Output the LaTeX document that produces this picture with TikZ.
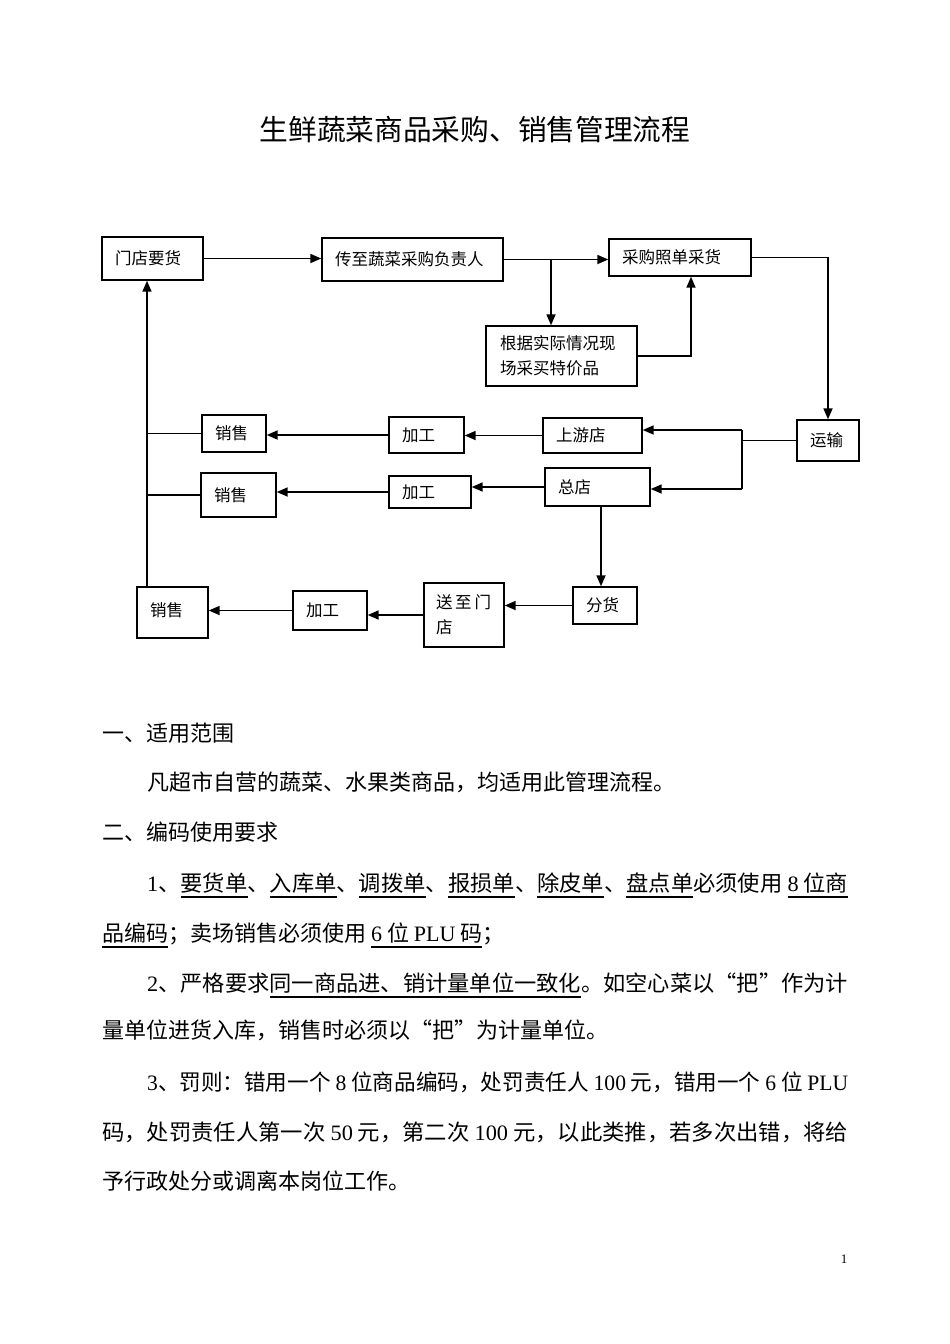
\documentclass[tikz,border=0pt]{standalone}
\usepackage{fontspec}
\usepackage{graphicx}
\setmainfont{Noto Sans CJK SC}
\newfontfamily\latf{Liberation Serif}
\usetikzlibrary{arrows.meta,calc}
\newcommand\lat[1]{{\latf #1}}
\newcommand\ul[1]{\setbox0=\hbox{#1}\rlap{\rule[-7pt]{\wd0}{1.6pt}}\box0}
\newcommand\jline[2]{\resizebox{#1}{\height}{#2}}
\tikzset{
  box/.style={draw, line width=1.4pt, inner xsep=13pt, inner ysep=0pt, align=left,
    font=\fontsize{16.5}{25}\selectfont},
  arr/.style={line width=1.7pt, -{Triangle[length=11pt,width=9pt]}},
  ln/.style={line width=1.7pt},
  body/.style={anchor=base west, inner sep=0pt, font=\fontsize{22}{26}\selectfont},
}
\begin{document}
\begin{tikzpicture}[x=1pt,y=-1pt]
\useasboundingbox (0,0) rectangle (950,1344);
\fill[white] (0,0) rectangle (950,1344);

% title
\node[inner sep=0pt, font=\fontsize{28.7}{32}\selectfont] (title) at (475,130) {生鲜蔬菜商品采购、销售管理流程};

% boxes
\node[box, minimum width=101pt, minimum height=43pt, text width=75pt] (md) at (152.5,258.5) {门店要货};
\node[box, minimum width=181pt, minimum height=43pt, text width=155pt] (cz) at (412.5,259.5) {传至蔬菜采购负责人};
\node[box, minimum width=142pt, minimum height=37pt, text width=116pt] (cg) at (680,257.5) {采购照单采货};
\node[box, minimum width=149pt, minimum height=60pt, text width=123pt, inner xsep=14pt] (gj) at (561.5,356) {根据实际情况现\\场采买特价品};
\node[box, minimum width=62pt, minimum height=41pt, text width=36pt] (ys) at (828,440.5) {运输};
\node[box, minimum width=99pt, minimum height=35pt, text width=73pt] (sy) at (592.5,435.5) {上游店};
\node[box, minimum width=105pt, minimum height=38pt, text width=79pt] (zd) at (597.5,487) {总店};
\node[box, minimum width=64pt, minimum height=37pt, text width=38pt] (fh) at (605,605.5) {分货};
\node[box, minimum width=80pt, minimum height=64pt, text width=56pt, inner xsep=12pt] (sz) at (464,615) {送\,至\,门\\店};
\node[box, minimum width=75pt, minimum height=36pt, text width=49pt] (jg1) at (426.5,435) {加工};
\node[box, minimum width=82pt, minimum height=32pt, text width=56pt] (jg2) at (430,492) {加工};
\node[box, minimum width=74pt, minimum height=39pt, text width=48pt] (jg3) at (330,610.5) {加工};
\node[box, minimum width=64pt, minimum height=37pt, text width=38pt] (xs1) at (234,433.5) {销售};
\node[box, minimum width=75pt, minimum height=44pt, text width=49pt] (xs2) at (238.5,495) {销售};
\node[box, minimum width=71pt, minimum height=51pt, text width=45pt, inner xsep=12pt] (xs3) at (172.5,612.5) {\raisebox{5pt}{销售}};

% helper coordinates
\coordinate (b1) at (551,260);
\coordinate (jt) at (742,430);
\coordinate (jb) at (742,489);
\coordinate (Lx) at (147,0);

% connectors
\draw[arr] (md.east) -- (md.east -| cz.west);
\draw[arr] (cz.east) -- (cz.east -| cg.west);
\draw[arr] (b1) -- (b1 |- gj.north);
\draw[arr] (gj.east) -| ([xshift=11pt]cg.south);
\draw[arr] (cg.east) -| (ys.north);
\draw[ln] (ys.west) -- (ys.west -| jt);
\draw[ln] (jt) -- (jb);
\draw[arr] (jt) -- (jt -| sy.east);
\draw[arr] (jb) -- (jb -| zd.east);
\draw[arr] (sy.west) -- (sy.west -| jg1.east);
\draw[arr] (jg1.west) -- (jg1.west -| xs1.east);
\draw[arr] (zd.west) -- (zd.west -| jg2.east);
\draw[arr] (jg2.west) -- (jg2.west -| xs2.east);
\draw[arr] ([xshift=3.5pt]zd.south) -- ([xshift=3.5pt]zd.south |- fh.north);
\draw[arr] (fh.west) -- (fh.west -| sz.east);
\draw[arr] (sz.west) -- (sz.west -| jg3.east);
\draw[arr] (jg3.west) -- (jg3.west -| xs3.east);
\draw[arr] (xs3.north -| Lx) -- (md.south -| Lx);
\draw[ln] (xs1.west) -- (xs1.west -| Lx);
\draw[ln] (xs2.west) -- (xs2.west -| Lx);

% body text
\node[body] (t1) at (102,741) {一、适用范围};
\node[body] (t2) at (147,790) {凡超市自营的蔬菜、水果类商品，均适用此管理流程。};
\node[body] (t3) at (102,840) {二、编码使用要求};
\node[body] (t4) at (147,891) {\jline{701pt}{\lat{1}、\ul{要货单}、\ul{入库单}、\ul{调拨单}、\ul{报损单}、\ul{除皮单}、\ul{盘点单}必须使用 \ul{\lat{8} 位商}}};
\node[body] (t5) at (102,941) {\ul{品编码}；卖场销售必须使用 \ul{\lat{6} 位 \lat{PLU} 码}；};
\node[body] (t6) at (147,991) {\jline{701pt}{\lat{2}、严格要求\ul{同一商品进、销计量单位一致化}。如空心菜以“把”作为计}};
\node[body] (t7) at (102,1038) {量单位进货入库，销售时必须以“把”为计量单位。};
\node[body] (t8) at (147,1090) {\jline{701pt}{\lat{3}、罚则：错用一个 \lat{8} 位商品编码，处罚责任人 \lat{100} 元，错用一个 \lat{6} 位 \lat{PLU}}};
\node[body] (t9) at (102,1140) {\jline{746pt}{码，处罚责任人第一次 \lat{50} 元，第二次 \lat{100} 元，以此类推，若多次出错，将给}};
\node[body] (t10) at (102,1189) {予行政处分或调离本岗位工作。};
\node[inner sep=0pt, font=\latf\fontsize{13}{15}\selectfont] (pg) at (844,1259) {1};
\end{tikzpicture}
\end{document}
